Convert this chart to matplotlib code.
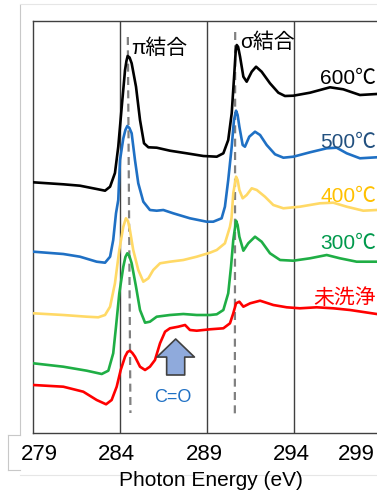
import matplotlib
matplotlib.use("Agg")
import matplotlib.pyplot as plt
from matplotlib.lines import Line2D

plt.rcParams['font.family'] = ['Liberation Sans', 'Noto Sans CJK JP', 'DejaVu Sans']

# NEXAFS C K-edge spectra (offset for clarity)
e_600 = [279.00, 280.74, 281.70, 282.66, 283.14, 283.43, 283.71, 283.90, 284.10, 284.29,
         284.37, 284.44, 284.55, 284.67, 284.92, 285.15, 285.38, 285.63, 286.11, 286.87,
         287.83, 288.79, 289.56, 289.94, 290.22, 290.42, 290.57, 290.65, 290.71, 290.79,
         290.90, 291.09, 291.28, 291.57, 291.82, 292.14, 292.62, 293.10, 293.48, 293.96,
         294.92, 296.07, 296.83, 297.79, 298.75]
i_600 = [250.7, 248.7, 247.3, 244.0, 242.3, 246.3, 260.0, 286.3, 326.3, 363.0,
         372.0, 377.0, 375.5, 369.7, 346.3, 313.0, 289.7, 285.7, 285.3, 282.3,
         279.7, 277.0, 276.3, 279.7, 293.0, 319.7, 359.7, 382.0, 388.0, 386.0,
         376.3, 356.3, 351.3, 361.3, 366.3, 361.3, 349.7, 340.3, 337.0, 337.3,
         340.3, 345.7, 343.7, 338.0, 339.0]

e_500 = [279.02, 280.74, 281.70, 282.66, 283.14, 283.43, 283.61, 283.77, 283.90, 284.00,
         284.19, 284.31, 284.42, 284.54, 284.67, 284.86, 285.05, 285.34, 285.72, 286.11,
         286.49, 287.06, 288.02, 288.98, 289.36, 289.84, 290.03, 290.22, 290.42, 290.55,
         290.67, 290.76, 290.86, 291.05, 291.18, 291.43, 291.76, 292.05, 292.43, 292.91,
         293.39, 293.96, 294.92, 295.88, 296.45, 297.03, 297.79, 298.75]
i_500 = [181.3, 179.0, 176.3, 171.3, 170.3, 176.3, 193.0, 219.7, 233.0, 273.0,
         294.7, 303.0, 307.0, 305.0, 299.7, 273.0, 249.7, 231.3, 223.0, 222.3,
         223.0, 219.7, 214.7, 211.3, 211.3, 214.7, 226.3, 253.0, 286.3, 313.0,
         322.3, 318.0, 306.3, 288.0, 286.3, 296.3, 301.3, 298.0, 288.0, 278.7,
         275.3, 276.3, 280.7, 284.7, 285.3, 279.7, 274.7, 275.7]

e_400 = [279.02, 280.74, 282.09, 282.75, 283.14, 283.43, 283.71, 283.96, 284.19, 284.34,
         284.46, 284.57, 284.76, 285.05, 285.34, 285.63, 285.91, 286.30, 286.87, 287.64,
         288.41, 289.17, 289.56, 290.03, 290.32, 290.41, 290.51, 290.67, 290.76, 290.86,
         291.05, 291.28, 291.57, 291.86, 292.33, 292.81, 293.39, 294.34, 295.49, 296.26,
         297.03, 297.98, 298.75]
i_400 = [119.7, 118.0, 116.3, 115.7, 118.0, 126.3, 149.7, 183.0, 206.3, 214.7,
         212.0, 203.0, 183.0, 163.0, 151.3, 154.7, 163.0, 169.7, 171.3, 173.0,
         176.3, 180.3, 183.0, 189.7, 206.3, 215.0, 239.7, 256.3, 253.0, 243.0,
         234.7, 238.0, 244.7, 243.0, 236.3, 228.0, 224.7, 226.3, 229.7, 230.3,
         226.3, 222.3, 223.0]

e_300 = [279.02, 280.74, 282.09, 282.95, 283.33, 283.61, 283.77, 283.96, 284.19, 284.31,
         284.42, 284.54, 284.67, 284.92, 285.15, 285.44, 285.72, 286.11, 286.87, 287.64,
         288.41, 289.17, 289.56, 289.94, 290.22, 290.38, 290.51, 290.67, 290.76, 290.86,
         291.09, 291.37, 291.76, 292.14, 292.62, 293.20, 293.96, 294.92, 295.88, 296.64,
         297.60, 298.75]
i_300 = [69.7, 66.3, 62.3, 59.0, 62.3, 79.7, 106.3, 139.7, 166.3, 176.0,
         179.7, 177.0, 169.7, 146.3, 123.0, 110.3, 111.3, 116.3, 118.0, 119.0,
         118.0, 118.0, 118.7, 123.0, 139.7, 166.3, 193.0, 212.3, 208.0, 196.3,
         182.3, 189.7, 196.3, 191.3, 179.7, 173.0, 172.3, 174.7, 178.0, 174.7,
         171.3, 171.3]

e_raw = [279.02, 280.74, 281.89, 282.66, 283.20, 283.52, 283.81, 284.04, 284.29, 284.43,
         284.57, 284.71, 284.86, 285.15, 285.44, 285.72, 286.01, 286.30, 286.59, 286.87,
         287.35, 287.74, 288.02, 288.41, 289.17, 289.94, 290.32, 290.51, 290.67, 290.86,
         291.09, 291.48, 292.05, 292.81, 293.58, 294.34, 295.30, 296.26, 297.22, 298.75]
i_raw = [48.0, 46.3, 41.3, 33.0, 28.7, 33.0, 46.3, 63.0, 76.3, 81.0,
         82.3, 80.0, 76.3, 66.3, 63.0, 66.3, 73.0, 89.7, 101.3, 104.7,
         106.3, 108.0, 103.0, 102.3, 103.7, 104.7, 109.7, 119.7, 129.7, 131.3,
         126.3, 129.7, 132.3, 128.0, 125.7, 124.7, 125.7, 124.7, 123.0, 119.0]

series = [
    (e_600, i_600, '#000000', '600℃', '#000000', 355),
    (e_500, i_500, '#1f70c4', '500℃', '#22507f', 291),
    (e_400, i_400, '#ffd966', '400℃', '#ffc000', 237),
    (e_300, i_300, '#1fae45', '300℃', '#00994c', 190),
    (e_raw, i_raw, '#ff0000', '未洗浄', '#ff0000', 135),
]

grid_e = [284, 289, 294]
tick_pos = [279.34, 283.77, 288.83, 293.83, 297.56]
tick_lab = ['279', '284', '289', '294', '299']

fig = plt.figure(figsize=(3.77, 4.92), dpi=100)
ax = fig.add_axes([33 / 377, 59 / 492, 348 / 377, 412 / 492])
ax.set_xlim(279, 299)
ax.set_ylim(0, 412)

for g in grid_e:
    ax.axvline(g, color='#404040', lw=1.0, zorder=1)

# peak position guides
ax.plot([284.45, 284.60], [396, 20], color='#808080', lw=1.6,
        linestyle=(0, (3.6, 2.4)), zorder=2)
ax.plot([290.62, 290.60], [401, 18], color='#808080', lw=1.6,
        linestyle=(0, (3.6, 2.4)), zorder=2)

for e, i, c, lab, lc, ly in series:
    ax.plot(e, i, color=c, lw=1.9, solid_joinstyle='round', zorder=3)
    ax.text(298.72, ly, lab, color=lc, fontsize=15, ha='right', va='center', zorder=4)

ax.text(284.62, 385, 'π結合', fontsize=15, ha='left', va='center')
ax.text(290.89, 391, 'σ結合', fontsize=15, ha='left', va='center')
ax.text(287.05, 35, 'C=O', fontsize=13, color='#1f70c4', ha='center', va='center')

ax.annotate('', xy=(287.20, 94), xytext=(287.20, 58),
            arrowprops=dict(arrowstyle='simple,head_length=13,head_width=27,tail_width=13',
                            mutation_scale=1, fc='#8faadc', ec='#404040', lw=1.2,
                            shrinkA=0, shrinkB=0))

ax.set_yticks([])
ax.set_xticks(tick_pos, tick_lab)
ax.tick_params(axis='x', length=0, pad=8, labelsize=16)
for s in ['left', 'top', 'bottom']:
    ax.spines[s].set_color('#404040')
    ax.spines[s].set_linewidth(1.0)
ax.spines['right'].set_visible(False)

fig.text(211 / 377, 11 / 492, 'Photon Energy (eV)', fontsize=15, ha='center', va='center')

# thin border lines around the plot area
edge = '#c8c8c8'
fig.add_artist(Line2D([20 / 377, 20 / 377], [57 / 492, 487 / 492], color=edge, lw=0.8))
fig.add_artist(Line2D([20 / 377, 1.0], [488 / 492, 488 / 492], color='#e6e6e6', lw=0.8))
fig.add_artist(Line2D([8 / 377, 20 / 377], [57 / 492, 57 / 492], color=edge, lw=0.8))
fig.add_artist(Line2D([8 / 377, 8 / 377], [22 / 492, 57 / 492], color=edge, lw=0.8))
fig.add_artist(Line2D([8 / 377, 20 / 377], [22 / 492, 22 / 492], color=edge, lw=0.8))
fig.add_artist(Line2D([20 / 377, 1.0], [17 / 492, 17 / 492], color='#e6e6e6', lw=0.8))

fig.savefig('out.png', dpi=100)
